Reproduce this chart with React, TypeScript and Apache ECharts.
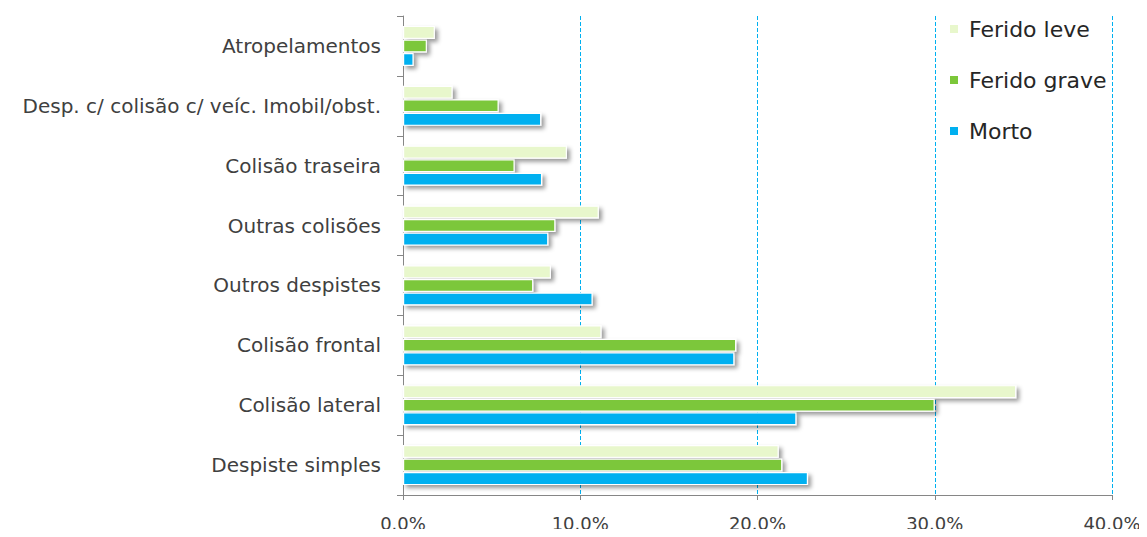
import React, { useEffect, useRef } from "react";
import * as echarts from "echarts";

const categories = [
  "Despiste simples",
  "Colisão lateral",
  "Colisão frontal",
  "Outros despistes",
  "Outras colisões",
  "Colisão traseira",
  "Desp. c/ colisão c/ veíc. Imobil/obst.",
  "Atropelamentos",
];
const feridoLeve = [21.2, 34.6, 11.2, 8.35, 11.05, 9.25, 2.8, 1.8];
const feridoGrave = [21.4, 30.0, 18.8, 7.35, 8.6, 6.3, 5.4, 1.35];
const morto = [22.85, 22.2, 18.7, 10.7, 8.2, 7.85, 7.8, 0.6];
const xTicks = [0, 10, 20, 30, 40];

const FONT = "DejaVu Sans";

export default function App() {
  const ref = useRef<HTMLDivElement>(null);
  useEffect(() => {
    const chart = echarts.init(ref.current!, null, { renderer: "svg" });
    const barStyle = (color: string) => ({
      color,
      borderColor: "#ffffff",
      borderWidth: 1.2,
      shadowColor: "rgba(0,0,0,0.4)",
      shadowBlur: 4,
      shadowOffsetX: 3,
      shadowOffsetY: 3,
    });
    chart.setOption({
      animation: false,
      grid: { left: 403, right: 35, top: 16, bottom: 42, containLabel: false },
      legend: {
        data: ["Ferido leve", "Ferido grave", "Morto"],
        orient: "vertical",
        left: 943,
        top: 13,
        itemWidth: 10,
        itemHeight: 10,
        itemGap: 29,
        icon: "rect",
        textStyle: {
          fontFamily: FONT,
          fontSize: 22,
          color: "#262626",
          padding: [0, 0, 0, 5],
        },
      },
      xAxis: {
        type: "value",
        min: 0,
        max: 40,
        interval: 10,
        axisLine: { show: true, lineStyle: { color: "#868686", width: 1 } },
        axisTick: { show: true, length: 5, lineStyle: { color: "#868686" } },
        axisLabel: {
          formatter: (v: number) => (xTicks.includes(v) ? v.toFixed(1) + "%" : ""),
          fontFamily: FONT,
          fontSize: 18,
          color: "#404040",
          margin: 19,
        },
        splitLine: {
          show: true,
          lineStyle: { color: "#00B0F0", type: [4, 2], width: 1 },
        },
      },
      yAxis: {
        type: "category",
        data: categories,
        axisLine: { show: true, lineStyle: { color: "#868686", width: 1 } },
        axisTick: { show: true, length: 6, lineStyle: { color: "#868686" } },
        axisLabel: {
          fontFamily: FONT,
          fontSize: 20,
          color: "#404040",
          margin: 22,
        },
      },
      series: [
        {
          name: "Ferido leve",
          type: "bar",
          data: feridoLeve,
          barWidth: 13,
          barGap: "4%",
          itemStyle: barStyle("#E8F7CC"),
        },
        {
          name: "Ferido grave",
          type: "bar",
          data: feridoGrave,
          barWidth: 13,
          barGap: "4%",
          itemStyle: barStyle("#7CC73A"),
        },
        {
          name: "Morto",
          type: "bar",
          data: morto,
          barWidth: 13,
          barGap: "4%",
          itemStyle: barStyle("#00B0F0"),
        },
      ],
    });
    return () => chart.dispose();
  }, []);
  return <div ref={ref} style={{ width: 1147, height: 537, margin: -8 }} />;
}
